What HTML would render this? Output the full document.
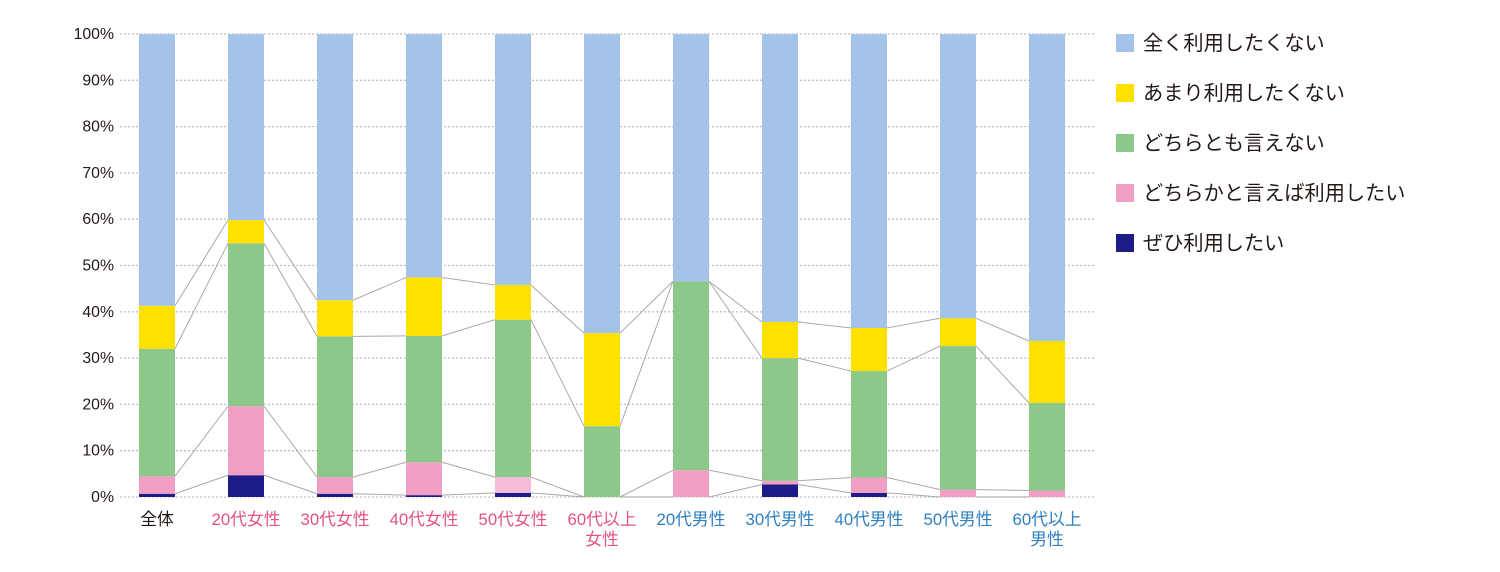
<!DOCTYPE html>
<html><head><meta charset="utf-8">
<style>
html,body{margin:0;padding:0;background:#fff;}
svg{display:block;font-family:"Liberation Sans","Noto Sans CJK JP",sans-serif;}
</style></head>
<body>
<svg id="chart" width="1500" height="572" viewBox="0 0 1500 572" xmlns="http://www.w3.org/2000/svg">
<g id="grid"></g>
<g id="yaxis"></g>
<g id="connectors"></g>
<g id="bars"></g>
<g id="xaxis"></g>
<g id="legend"></g>
</svg>
<script>
const categories = ["全体","20代女性","30代女性","40代女性","50代女性","60代以上|女性","20代男性","30代男性","40代男性","50代男性","60代以上|男性"];
const labelGroup = ["all","f","f","f","f","f","m","m","m","m","m"];
const seriesNames = ["ぜひ利用したい","どちらかと言えば利用したい","どちらとも言えない","あまり利用したくない","全く利用したくない"];
const sDefinitely = [0.7,4.7,0.7,0.4,0.9,0,0,2.7,0.9,0,0];
const sRather = [3.8,14.9,3.6,7.1,3.4,0,5.8,0.8,3.3,1.6,1.4];
const sNeutral = [27.5,35.2,30.4,27.3,34.0,15.3,40.8,26.5,23.0,31.0,18.9];
const sNotMuch = [9.3,5.0,7.8,12.6,7.5,20.1,0,7.8,9.3,6.0,13.4];
const sNotAtAll = [58.7,40.2,57.5,52.6,54.2,64.6,53.4,62.2,63.5,61.4,66.3];
const yTicks = [0,10,20,30,40,50,60,70,80,90,100];

const series = [sDefinitely,sRather,sNeutral,sNotMuch,sNotAtAll];
const colors = ["#1e1c86","#f09ec3","#8cc88a","#ffe100","#a3c4e8"];
const seriesKeys = ["definitely","rather","neutral","not-much","not-at-all"];
const NS = "http://www.w3.org/2000/svg";
const y0 = 497, y100 = 34, x0 = 157, dx = 89.0, bw = 36;
const yS = v => y0 - (y0 - y100) * v / 100;
const xS = i => x0 + dx * i;
function mk(tag, attrs, parent){const e=document.createElementNS(NS,tag);for(const k in attrs)e.setAttribute(k,attrs[k]);parent.appendChild(e);return e;}

const grid = document.getElementById('grid'), yaxis = document.getElementById('yaxis');
yTicks.forEach(t=>{
  const l = mk('line',{x1:120,x2:1096,y1:yS(t),y2:yS(t),stroke:'#c0c0c0','stroke-width':1.3,'stroke-dasharray':'2,2'},grid);
  
  
  const tx = mk('text',{x:114,y:yS(t)+5,'text-anchor':'end','font-size':15.8,fill:'#231815'},yaxis);
  tx.textContent = t+'%';
  
  
});

const cum = categories.map((c,i)=>{let s=0;return series.map(ser=>{s+=ser[i];return s;});});
const conn = document.getElementById('connectors');
for(let i=0;i<categories.length-1;i++){
  for(let k=0;k<4;k++){
    const l = mk('line',{x1:xS(i)+bw/2,y1:yS(cum[i][k]),x2:xS(i+1)-bw/2,y2:yS(cum[i+1][k]),stroke:'#a8a8a8','stroke-width':1},conn);
    
    
  }
}
const bars = document.getElementById('bars');
categories.forEach((c,i)=>{
  let base = 0;
  series.forEach((ser,k)=>{
    const v = ser[i];
    let col = colors[k];
    if(k===1 && i===4) col = '#f6bcd7';
    const r = mk('rect',{x:xS(i)-bw/2,y:yS(base+v),width:bw,height:Math.max(0,yS(base)-yS(base+v)),fill:col},bars);
    
    
    base += v;
  });
});
const xaxis = document.getElementById('xaxis');
const lcol = {all:'#231815',f:'#e2537f',m:'#2f7fc1'};
categories.forEach((c,i)=>{
  const lines = c.split('|');
  lines.forEach((ln,j)=>{
    const t = mk('text',{x:xS(i),y:525+j*20,'text-anchor':'middle','font-size':16.8,fill:lcol[labelGroup[i]]},xaxis);
    t.textContent = ln;
    
    
  });
});
const legend = document.getElementById('legend');
for(let k=4;k>=0;k--){
  const row = 4-k, cy = 43 + row*50;
  const g = mk('g',{},legend);
  
  
  mk('rect',{x:1116,y:cy-9,width:18,height:18,fill:colors[k]},g);
  const t = mk('text',{x:1143,y:cy+7,'font-size':20.2,fill:'#231815'},g);
  t.textContent = seriesNames[k];
}
</script>
</body></html>
